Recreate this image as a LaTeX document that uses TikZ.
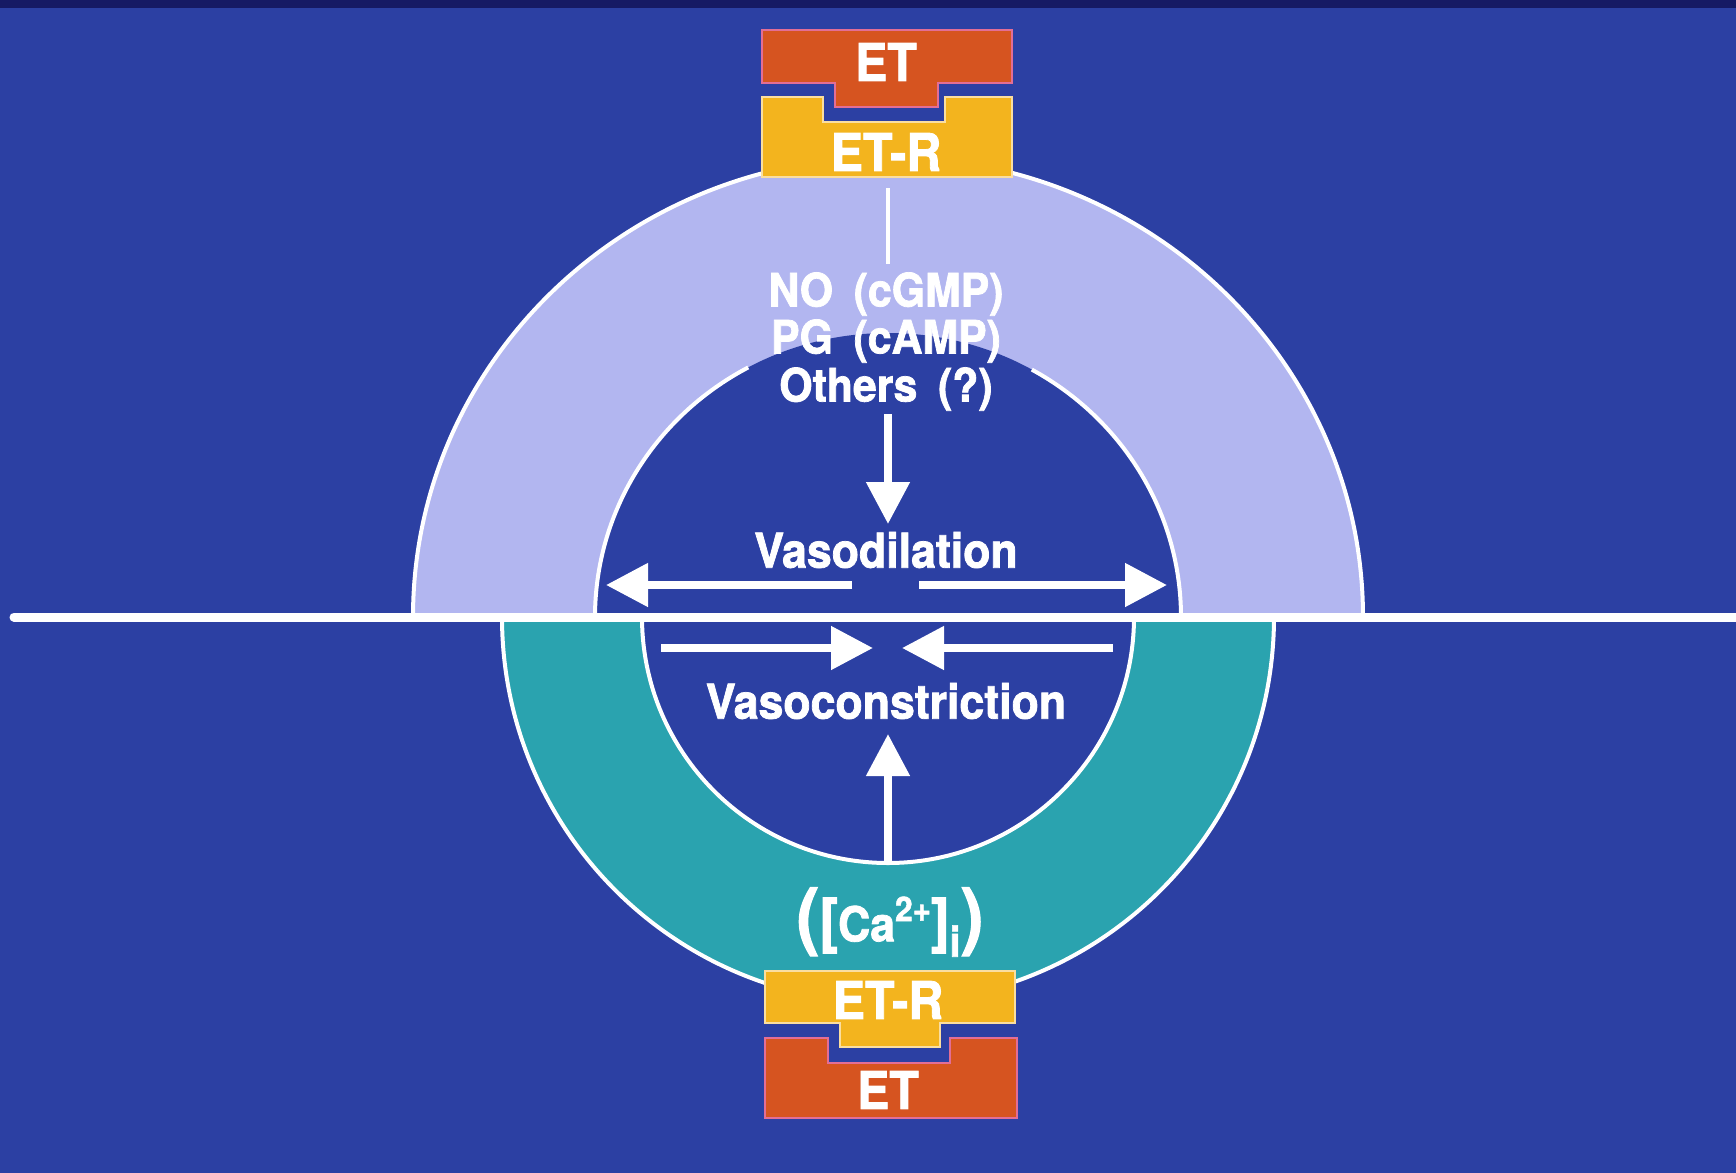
\documentclass[tikz,border=0pt]{standalone}
\usepackage{fontspec}
\newfontfamily\lblfont[FakeStretch=0.93,BoldFeatures={FakeBold=1.6}]{TeX Gyre Heros}
\usetikzlibrary{arrows.meta}
\definecolor{bgblue}{RGB}{44,64,163}
\definecolor{topband}{RGB}{22,26,100}
\definecolor{lav}{RGB}{178,182,240}
\definecolor{ringteal}{RGB}{42,163,175}
\definecolor{etred}{RGB}{214,84,32}
\definecolor{etborder}{RGB}{226,110,150}
\definecolor{etrgold}{RGB}{243,180,30}
\definecolor{etrborder}{RGB}{250,222,160}
\begin{document}
\begin{tikzpicture}[x=0.5pt,y=-0.5pt,
  lbl/.style={text=white,font=\lblfont\bfseries\fontsize{24}{26}\selectfont,inner sep=0pt},
  stacklbl/.style={text=white,font=\lblfont\bfseries\fontsize{23}{25}\selectfont,inner sep=0pt},
  etlbl/.style={text=white,font=\lblfont\bfseries\fontsize{26}{28}\selectfont,inner sep=0pt},
  ring/.style={draw=white,line width=2pt},
  arr/.style={draw=white,line width=4pt,-{Triangle[width=21pt,length=21pt]}},
  thinline/.style={draw=white,line width=2pt},
  etbox/.style={fill=etred,draw=etborder,line width=1.2pt},
  etrbox/.style={fill=etrgold,draw=etrborder,line width=1.2pt}]
% background
\fill[bgblue] (0,0) rectangle (1736,1173);
\fill[topband] (0,0) rectangle (1736,8);
\useasboundingbox (0,0) rectangle (1736,1173);
\coordinate (c) at (888,617);
% upper ring (slightly flattened)
\fill[lav] ([shift={(-475,0)}]c) arc[start angle=180,end angle=360,x radius=475,y radius=460] -- cycle;
\fill[bgblue] ([shift={(-293,0)}]c) arc[start angle=180,end angle=360,x radius=293,y radius=284] -- cycle;
\draw[ring] ([shift={(-475,0)}]c) arc[start angle=180,end angle=360,x radius=475,y radius=460];
\draw[ring] ([shift={(-293,0)}]c) arc[start angle=180,end angle=241.5,x radius=293,y radius=284];
\draw[ring] ([shift={({293*cos(299.4)},{284*sin(299.4)})}]c) arc[start angle=299.4,end angle=360,x radius=293,y radius=284];
% lower ring
\fill[ringteal] ([shift={(386,0)}]c) arc[start angle=0,end angle=180,radius=386] -- cycle;
\fill[bgblue] ([shift={(246,0)}]c) arc[start angle=0,end angle=180,radius=246] -- cycle;
\draw[ring] ([shift={(386,0)}]c) arc[start angle=0,end angle=180,radius=386];
\draw[ring] ([shift={(246,0)}]c) arc[start angle=0,end angle=180,radius=246];
% horizontal membrane line
\coordinate (hl) at (14,617);
\coordinate (hr) at (1745,617);
\draw[white,line width=4.5pt,line cap=round] (hl) -- (hr);
% top ET / ET-R
\filldraw[etbox] (762,30) -- (1012,30) -- (1012,83) -- (938,83) -- (938,107) -- (835,107) -- (835,83) -- (762,83) -- cycle;
\filldraw[etrbox] (762,97) -- (823,97) -- (823,122) -- (945,122) -- (945,97) -- (1012,97) -- (1012,177) -- (762,177) -- cycle;
\node[etlbl] (ettop) at (886,62) {ET};
\node[etlbl] (etrtop) at (886,152) {ET-R};
% bottom ET-R / ET
\filldraw[etrbox] (765,971) -- (1015,971) -- (1015,1023) -- (940,1023) -- (940,1047) -- (840,1047) -- (840,1023) -- (765,1023) -- cycle;
\filldraw[etbox] (765,1038) -- (828,1038) -- (828,1063) -- (950,1063) -- (950,1038) -- (1017,1038) -- (1017,1118) -- (765,1118) -- cycle;
\node[etlbl] (etrbot) at (888,1000) {ET-R};
\node[etlbl] (etbot) at (888,1090) {ET};
% labels
\node[stacklbl] (no) at (886,294) {NO\hspace{0.45em}(cGMP)};
\node[stacklbl] (pg) at (886,341) {PG\hspace{0.45em}(cAMP)};
\node[stacklbl] (oth) at (886,389) {Others\hspace{0.45em}(?)};
\node[lbl] (vd) at (886,550) {Vasodilation};
\node[lbl] (vc) at (886,701) {Vasoconstriction};
\node[lbl] (ca) at (890,922) {{\fontsize{37}{37}\selectfont(}{\fontsize{30}{30}\selectfont[}Ca\raisebox{0.42em}{\fontsize{17}{17}\selectfont 2+}{\fontsize{30}{30}\selectfont]}\raisebox{-0.32em}{\fontsize{21}{21}\selectfont i}{\fontsize{37}{37}\selectfont)}};
% connectors
\coordinate (vt) at (888,188);
\coordinate (vb) at (888,264);
\draw[thinline] (vt) -- (vb);
\coordinate (da) at (888,414);
\coordinate (db) at (888,524);
\draw[arr] (da) -- (db);
\coordinate (vdl0) at (852,585);
\coordinate (vdl1) at (606,585);
\coordinate (vdr0) at (919,585);
\coordinate (vdr1) at (1167,585);
\draw[arr] (vdl0) -- (vdl1);
\draw[arr] (vdr0) -- (vdr1);
\coordinate (vcl0) at (661,648);
\coordinate (vcl1) at (873,648);
\coordinate (vcr0) at (1113,648);
\coordinate (vcr1) at (902,648);
\draw[arr] (vcl0) -- (vcl1);
\draw[arr] (vcr0) -- (vcr1);
\coordinate (ua) at (888,862);
\coordinate (ub) at (888,734);
\draw[arr] (ua) -- (ub);
\end{tikzpicture}
\end{document}
